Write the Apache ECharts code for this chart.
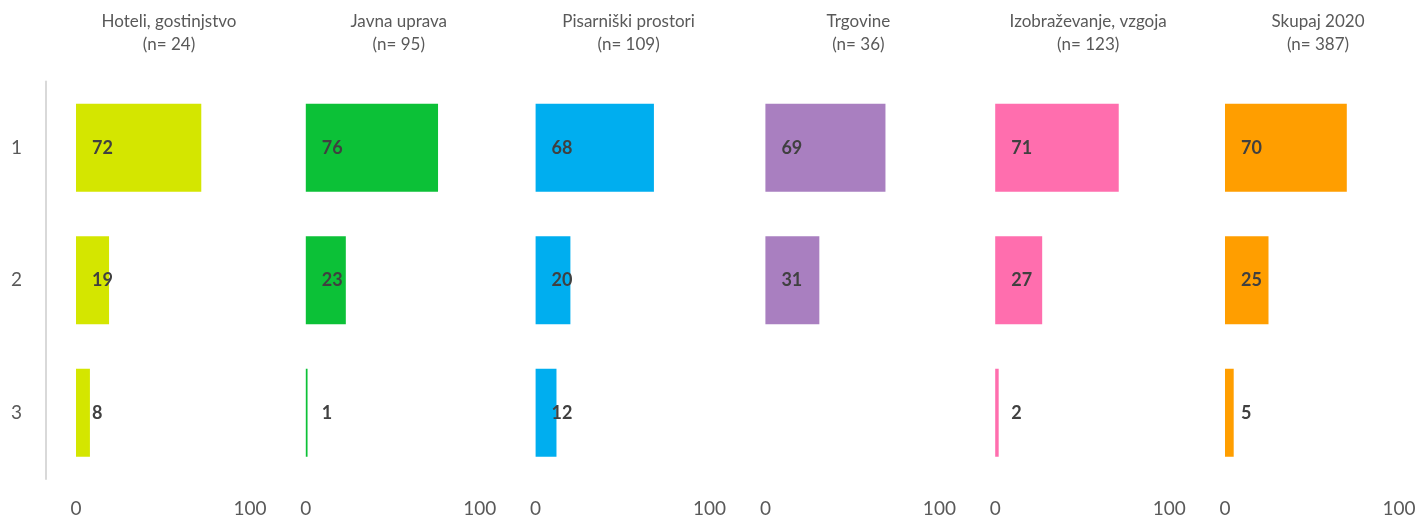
<!DOCTYPE html>
<html><head><meta charset="utf-8">
<script src="https://cdn.jsdelivr.net/npm/echarts@6/dist/echarts.min.js"></script>
<style>html,body{margin:0;padding:0;background:#fff}#c{width:1420px;height:518px}</style>
</head><body><div id="c"></div>
<script>
const rows = ['1', '2', '3'];
const panelNames = ['Hoteli, gostinjstvo', 'Javna uprava', 'Pisarniški prostori', 'Trgovine', 'Izobraževanje, vzgoja', 'Skupaj 2020'];
const panelN = ['(n= 24)', '(n= 95)', '(n= 109)', '(n= 36)', '(n= 123)', '(n= 387)'];
const hoteli = [72, 19, 8];
const javna = [76, 23, 1];
const pisarniski = [68, 20, 12];
const trgovine = [69, 31, null];
const izobrazevanje = [71, 27, 2];
const skupaj = [70, 25, 5];
const colors = ['#D4E600', '#0CC137', '#00AEEF', '#A97FC0', '#FF6EAE', '#FF9E00'];
const xTicks = [0, 100];

(function () {
  const panels = [hoteli, javna, pisarniski, trgovine, izobrazevanje, skupaj];
  const FONT = 'Lato, "Open Sans", sans-serif';
  const left0 = 76, step = 229.8, gw = 174, gTop = 81.5, gh = 399;

  const grid = [], xAxis = [], yAxis = [], series = [], title = [];
  panels.forEach((vals, i) => {
    const l = left0 + i * step;
    grid.push({left: l, top: gTop, width: gw, height: gh, containLabel: false});
    xAxis.push({
      type: 'value', gridIndex: i, min: xTicks[0], max: xTicks[1], interval: 100,
      axisLine: {show: false}, axisTick: {show: false}, splitLine: {show: false},
      axisLabel: {fontSize: 19, color: '#595959', fontFamily: FONT, margin: 20}
    });
    yAxis.push({
      type: 'category', gridIndex: i, data: rows, inverse: true,
      show: i === 0, offset: 30,
      axisLine: {show: true, onZero: false, lineStyle: {color: '#D9D9D9', width: 2}},
      axisTick: {show: false},
      axisLabel: {fontSize: 19, color: '#595959', fontFamily: FONT, margin: 24}
    });
    series.push({
      type: 'bar', xAxisIndex: i, yAxisIndex: i, data: vals, barWidth: 88,
      itemStyle: {color: colors[i]},
      label: {show: true, position: 'insideLeft', distance: 16, fontSize: 18, fontWeight: 'bold',
        color: '#404040', fontFamily: FONT}
    });
    title.push({
      text: panelNames[i] + '\n' + panelN[i],
      left: l + gw / 2 + 6, top: 10, padding: 0, textAlign: 'center',
      textStyle: {fontSize: 17, fontWeight: 'normal', color: '#595959', fontFamily: FONT, lineHeight: 23}
    });
  });

  const chart = echarts.init(document.getElementById('c'), null, {renderer: 'canvas'});
  chart.setOption({animation: false, backgroundColor: '#fff', title, grid, xAxis, yAxis, series});
})();
</script></body></html>
